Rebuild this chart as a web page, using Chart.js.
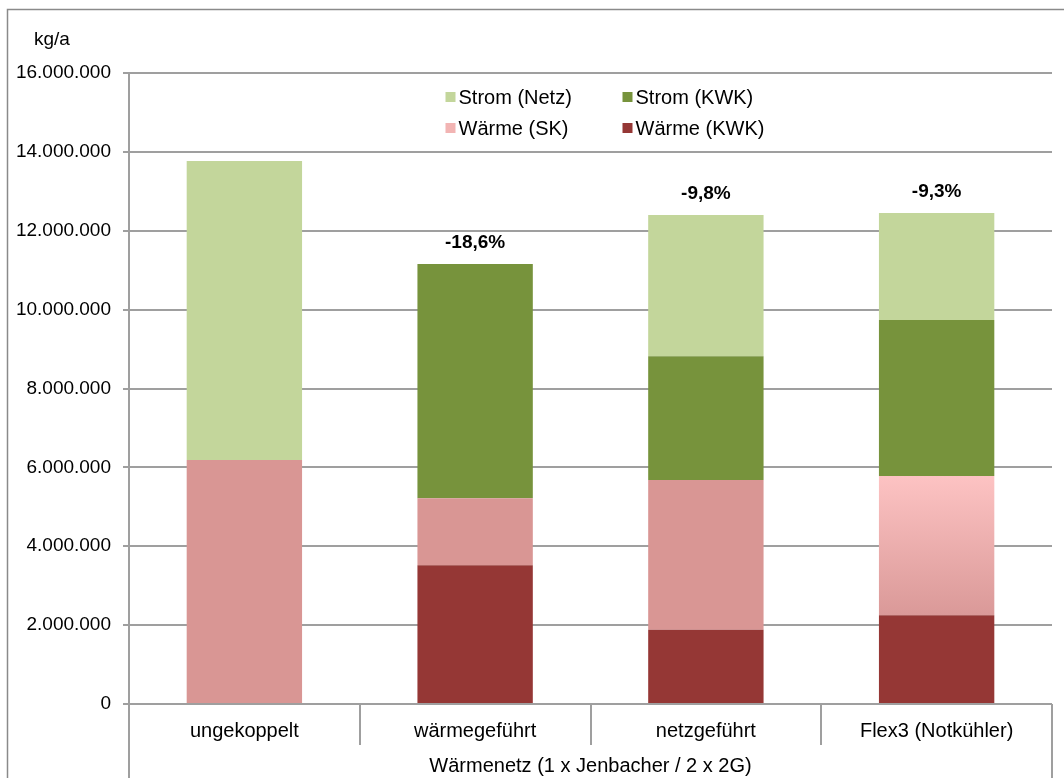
<!DOCTYPE html>
<html>
<head>
<meta charset="utf-8">
<script src="https://cdn.jsdelivr.net/npm/chart.js@4/dist/chart.umd.min.js"></script>
<style>
  html, body { margin: 0; padding: 0; background: #fff; }
  #wrap { width: 1064px; height: 778px; position: relative; }
</style>
</head>
<body>
<div id="wrap"><canvas id="c" width="1064" height="778"></canvas></div>
<script>
// ---- Data ----
const categories = ['ungekoppelt', 'wärmegeführt', 'netzgeführt', 'Flex3 (Notkühler)'];
const groupLabel = 'Wärmenetz (1 x Jenbacher / 2 x 2G)';
const unitLabel = 'kg/a';
const waermeKWK = [0, 3520000, 1880000, 2250000];
const waermeSK  = [6190000, 1700000, 3800000, 3530000];
const stromKWK  = [0, 5940000, 3140000, 3960000];
const stromNetz = [7580000, 0, 3580000, 2710000];
const changeLabels = ['', '-18,6%', '-9,8%', '-9,3%'];
const yTicks = [0, 2000000, 4000000, 6000000, 8000000, 10000000, 12000000, 14000000, 16000000];

const FONT = "'Liberation Sans', Arial, sans-serif";
const GRID = '#9f9f9f';
const colors = {
  waermeKWK: '#953735',
  waermeSK: '#d99694',
  stromKWK: '#77933c',
  stromNetz: '#c3d69b'
};

function fmt(v) {
  return String(Math.round(v)).replace(/\B(?=(\d{3})+(?!\d))/g, '.');
}

// Gradient for the Flex3 "Wärme (SK)" segment
function skColor(ctx) {
  const chart = ctx.chart;
  const y = chart.scales && chart.scales.y;
  if (!chart.chartArea || !y || ctx.dataIndex !== 3) return colors.waermeSK;
  const i = ctx.dataIndex;
  const bottom = y.getPixelForValue(waermeKWK[i]);
  const top = y.getPixelForValue(waermeKWK[i] + waermeSK[i]);
  const g = chart.ctx.createLinearGradient(0, top, 0, bottom);
  g.addColorStop(0, '#fdc3c3');
  g.addColorStop(1, '#da9998');
  return g;
}

const framePlugin = {
  id: 'frame',
  beforeDraw(chart) {
    const c = chart.ctx;
    c.save();
    c.fillStyle = '#fff';
    c.fillRect(0, 0, chart.width, chart.height);
    c.strokeStyle = '#8a8a8a';
    c.lineWidth = 1.5;
    c.strokeRect(7.5, 9.5, chart.width + 20, chart.height + 20);
    c.fillStyle = '#000';
    c.font = '19px ' + FONT;
    c.textBaseline = 'middle';
    c.textAlign = 'left';
    c.fillText(unitLabel, 34, 40);
    c.restore();
  },
  afterDraw(chart) {
    const c = chart.ctx;
    const x = chart.scales.x;
    const y = chart.scales.y;
    const n = categories.length;
    const step = (x.right - x.left) / n;
    const base = y.getPixelForValue(0);
    c.save();
    c.strokeStyle = GRID;
    c.lineWidth = 2;
    for (let i = 0; i <= n; i++) {
      const px = Math.round(x.left + i * step);
      const outer = (i === 0 || i === n);
      c.beginPath();
      c.moveTo(px, base);
      c.lineTo(px, outer ? chart.height : base + 41);
      c.stroke();
    }
    // change labels above stacks
    c.fillStyle = '#000';
    c.font = 'bold 19px ' + FONT;
    c.textAlign = 'center';
    c.textBaseline = 'middle';
    for (let i = 0; i < n; i++) {
      if (!changeLabels[i]) continue;
      const total = waermeKWK[i] + waermeSK[i] + stromKWK[i] + stromNetz[i];
      c.fillText(changeLabels[i], x.getPixelForValue(i), y.getPixelForValue(total) - 21);
    }
    // legend inside plot area
    const ca = chart.chartArea;
    const cx = (ca.left + ca.right) / 2;
    const items = [
      { ds: 3, col: 0, row: 0 },
      { ds: 2, col: 1, row: 0 },
      { ds: 1, col: 0, row: 1 },
      { ds: 0, col: 1, row: 1 }
    ];
    c.font = '20px ' + FONT;
    c.textAlign = 'left';
    items.forEach(it => {
      const ds = chart.data.datasets[it.ds];
      const sx = cx - 145 + it.col * 177;
      const sy = ca.top + 24 + it.row * 31;
      c.fillStyle = ds.legendColor;
      c.fillRect(sx, sy - 5, 10, 10);
      c.fillStyle = '#000';
      c.fillText(ds.label, sx + 13, sy + 1);
    });
    c.restore();
  }
};

const ctx = document.getElementById('c').getContext('2d');
new Chart(ctx, {
  type: 'bar',
  data: {
    labels: categories,
    datasets: [
      { label: 'Wärme (KWK)', data: waermeKWK, backgroundColor: colors.waermeKWK, legendColor: colors.waermeKWK },
      { label: 'Wärme (SK)', data: waermeSK, backgroundColor: skColor, legendColor: '#f2b4b3' },
      { label: 'Strom (KWK)', data: stromKWK, backgroundColor: colors.stromKWK, legendColor: colors.stromKWK },
      { label: 'Strom (Netz)', data: stromNetz, backgroundColor: colors.stromNetz, legendColor: colors.stromNetz }
    ]
  },
  options: {
    responsive: false,
    animation: false,
    devicePixelRatio: 1,
    layout: { padding: { top: 73, right: 12, left: 0, bottom: 0 } },
    datasets: { bar: { categoryPercentage: 0.5, barPercentage: 1, borderWidth: 0 } },
    plugins: { legend: { display: false }, tooltip: { enabled: false } },
    scales: {
      x: {
        stacked: true,
        grid: { display: false, drawTicks: false },
        border: { display: false },
        ticks: { color: '#000', font: { family: FONT, size: 20 }, padding: 15, maxRotation: 0 },
        title: { display: true, text: groupLabel, color: '#000', font: { family: FONT, size: 20 }, padding: { top: 0, bottom: 0 } },
        afterFit(s) { s.height = 74; }
      },
      y: {
        stacked: true,
        min: 0,
        max: 16000000,
        afterBuildTicks(s) { s.ticks = yTicks.map(v => ({ value: v })); },
        grid: { color: GRID, lineWidth: 2, drawTicks: true, tickLength: 6 },
        border: { display: true, color: GRID, width: 2 },
        ticks: { color: '#000', font: { family: FONT, size: 19 }, padding: 12, callback: v => fmt(v) },
        afterFit(s) { s.width = 129; }
      }
    }
  },
  plugins: [framePlugin]
});
</script>
</body>
</html>
